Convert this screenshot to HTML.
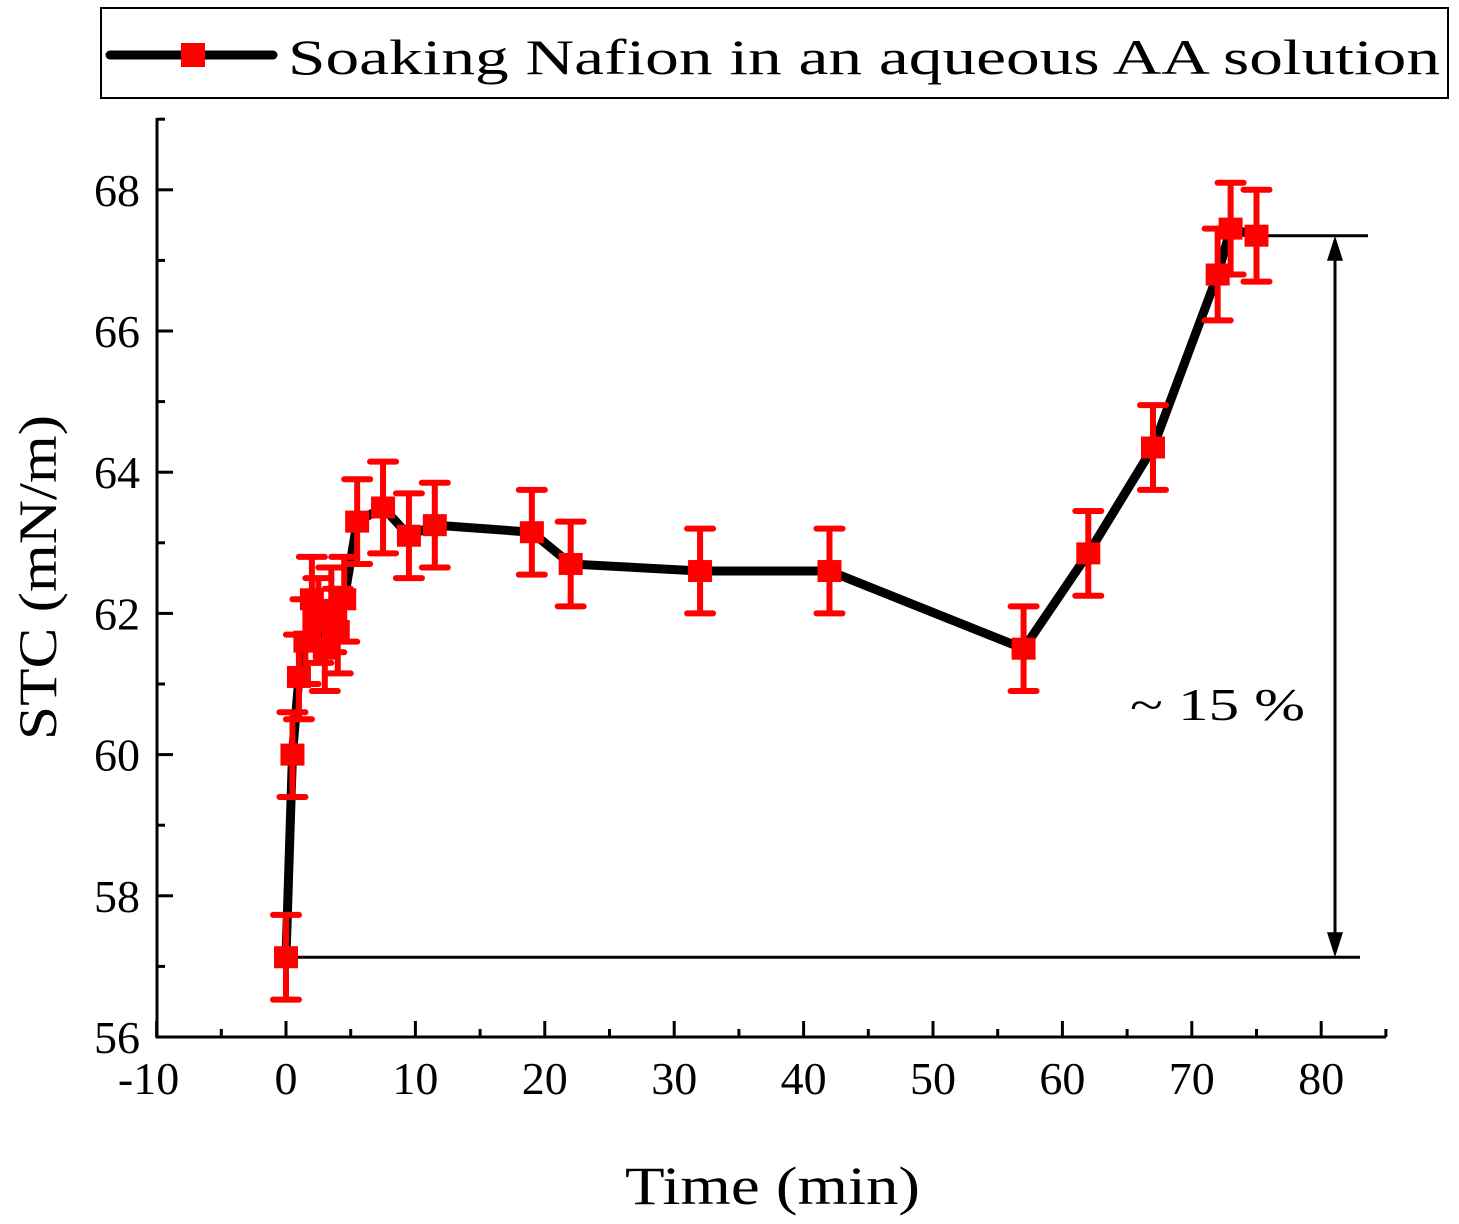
<!DOCTYPE html>
<html><head><meta charset="utf-8"><style>
html,body{margin:0;padding:0;background:#fff;width:1459px;height:1224px;overflow:hidden}
svg text{font-family:"Liberation Serif",serif;fill:#000}
</style></head><body>
<svg id="chart" width="1459" height="1224" viewBox="0 0 1459 1224" xmlns="http://www.w3.org/2000/svg">
<g>
<rect x="101" y="8" width="1347" height="90" fill="#fff" stroke="#000" stroke-width="2"/>
<line x1="110" y1="55" x2="273" y2="55" stroke="#000" stroke-width="9" stroke-linecap="round"/>
<rect x="181" y="43" width="24" height="24" fill="#f00"/>
<text x="288" y="74" font-size="50" textLength="1152" lengthAdjust="spacingAndGlyphs">Soaking Nafion in an aqueous AA solution</text>
</g>
<text x="625" y="1204" font-size="54" textLength="295" lengthAdjust="spacingAndGlyphs">Time (min)</text>
<text transform="translate(56,740) rotate(-90)" font-size="54" textLength="325" lengthAdjust="spacingAndGlyphs">STC (mN/m)</text>
<text x="1130" y="720" font-size="46" textLength="175" lengthAdjust="spacingAndGlyphs">~ 15 %</text>
<g id="axes"></g>
<g id="marks"></g>
</svg>
<script>
const times=[0,0.5,1,1.5,2,2.5,3,3.5,4,4.5,5.5,7.5,9.5,11.5,19,22,32,42,57,62,67,72,73,75];
const stc=[57.13,60.0,61.1,61.6,62.2,61.9,61.5,62.05,61.75,62.2,63.3,63.5,63.1,63.25,63.15,62.7,62.6,62.6,61.5,62.85,64.35,66.8,67.45,67.35];
const errs=[0.6,0.6,0.6,0.6,0.6,0.6,0.6,0.6,0.6,0.6,0.6,0.65,0.6,0.6,0.6,0.6,0.6,0.6,0.6,0.6,0.6,0.65,0.65,0.65];
const xTicks=[-10,0,10,20,30,40,50,60,70,80];
const yTicks=[56,58,60,62,64,66,68];
const NS="http://www.w3.org/2000/svg";
const X=v=>286+v*12.94, Y=v=>1037-(v-56)*70.6;
function mk(p,t,a){const e=document.createElementNS(NS,t);for(const k in a)e.setAttribute(k,a[k]);p.appendChild(e);return e;}
const ax=document.getElementById('axes'), mg=document.getElementById('marks');
let e;
e=mk(ax,'path',{d:'M157 118 V1037 H1386',fill:'none',stroke:'#000','stroke-width':3});


for(let v=-10;v<=85;v+=5){const big=v%10===0;
 e=mk(ax,'line',{x1:X(v),x2:X(v),y1:1037,y2:1037-(big?16:8),stroke:'#000','stroke-width':3});
 
 }
xTicks.forEach(v=>{e=mk(ax,'text',{x:X(v)+(v<0?-8:0),y:1094,'font-size':46,'text-anchor':'middle'});e.textContent=(v<0?'-':'')+Math.abs(v);
 
 });
for(let v=56;v<=69;v+=1){const big=v%2===0;
 e=mk(ax,'line',{x1:157,x2:157+(big?16:8),y1:Y(v),y2:Y(v),stroke:'#000','stroke-width':3});
 
 }
yTicks.forEach(v=>{e=mk(ax,'text',{x:140,y:Y(v)+16,'font-size':46,'text-anchor':'end'});e.textContent=v;
 
 });
e=mk(mg,'line',{x1:X(times[0]),x2:1360,y1:Y(stc[0]),y2:Y(stc[0]),stroke:'#000','stroke-width':3});


e=mk(mg,'line',{x1:X(times[23]),x2:1368,y1:Y(stc[23]),y2:Y(stc[23]),stroke:'#000','stroke-width':3});


const ay1=Y(stc[23]),ay2=Y(stc[0]);
e=mk(mg,'line',{x1:1335,x2:1335,y1:ay1+20,y2:ay2-20,stroke:'#000','stroke-width':3});


e=mk(mg,'path',{d:`M1335 ${ay1} L1327 ${ay1+25} L1343 ${ay1+25}Z M1335 ${ay2} L1327 ${ay2-25} L1343 ${ay2-25}Z`,fill:'#000'});


e=mk(mg,'polyline',{points:times.map((t,i)=>X(t)+','+Y(stc[i])).join(' '),fill:'none',stroke:'#000','stroke-width':9,'stroke-linejoin':'round'});


times.forEach((t,i)=>{const x=X(t),y=Y(stc[i]),t1=Y(stc[i]+errs[i]),b1=Y(stc[i]-errs[i]);
 const g=mk(mg,'g',{});
 
 
 mk(g,'line',{x1:x,x2:x,y1:t1,y2:b1,stroke:'#f00','stroke-width':6});
 mk(g,'line',{x1:x-13,x2:x+13,y1:t1,y2:t1,stroke:'#f00','stroke-width':6,'stroke-linecap':'round'});
 mk(g,'line',{x1:x-13,x2:x+13,y1:b1,y2:b1,stroke:'#f00','stroke-width':6,'stroke-linecap':'round'});
 mk(g,'rect',{x:x-12,y:y-11,width:24,height:22,fill:'#f00'});
});
</script>
</body></html>
